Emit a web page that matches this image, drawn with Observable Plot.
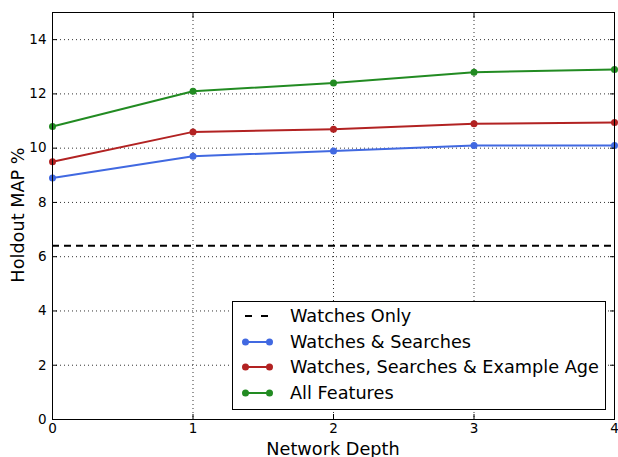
<!DOCTYPE html>
<html><head><meta charset="utf-8">
<script src="https://cdn.jsdelivr.net/npm/d3@7"></script>
<script src="https://cdn.jsdelivr.net/npm/@observablehq/plot@0.6"></script>
<style>
body{margin:0;background:#fff;font-family:"DejaVu Sans",sans-serif;}
#wrap{position:relative;width:618px;height:457px;overflow:hidden;}
#legend{position:absolute;left:232px;top:301px;width:372px;height:107px;border:1px solid #000;background:#fff;font-size:17.7px;}
.row{position:absolute;left:9px;height:26px;display:flex;align-items:center;}
.row span{margin-left:17px;color:#000;}
</style></head>
<body><div id="wrap"></div>
<script>
const depths = [0, 1, 2, 3, 4];
const seriesNames = ["Watches & Searches", "Watches, Searches & Example Age", "All Features"];
const watchesSearches = [8.9, 9.7, 9.9, 10.1, 10.1];
const watchesSearchesAge = [9.5, 10.6, 10.7, 10.9, 10.95];
const allFeatures = [10.8, 12.1, 12.4, 12.8, 12.9];
const watchesOnly = 6.4;
const colors = ["#4169E1", "#B22222", "#228B22"];
const yTicks = [0, 2, 4, 6, 8, 10, 12, 14];
const xTicks = [0, 1, 2, 3, 4];

const seriesVals = [watchesSearches, watchesSearchesAge, allFeatures];
const data = [];
seriesVals.forEach((vals, i) => vals.forEach((v, j) => data.push({series: seriesNames[i], x: depths[j], y: v})));

const plot = Plot.plot({
  width: 618, height: 457,
  marginLeft: 52, marginRight: 4, marginTop: 12, marginBottom: 38,
  style: {fontFamily: "DejaVu Sans", fontSize: "13.5px", background: "white", color: "black"},
  x: {domain: [0, 4]},
  y: {domain: [0, 15]},
  color: {domain: seriesNames, range: colors},
  marks: [
    Plot.gridX(xTicks, {stroke: "black", strokeOpacity: 0.8, strokeDasharray: "1,3"}),
    Plot.gridY(yTicks, {stroke: "black", strokeOpacity: 0.8, strokeDasharray: "1,3"}),
    Plot.ruleY([watchesOnly], {stroke: "black", strokeWidth: 2, strokeDasharray: "7,5"}),
    Plot.line(data, {x: "x", y: "y", z: "series", stroke: "series", strokeWidth: 2}),
    Plot.dot(data, {x: "x", y: "y", fill: "series", r: 3.5}),
    Plot.axisY(yTicks, {anchor: "left", tickSize: -5, tickPadding: 11, tickFormat: d3.format("d"), label: null, fontSize: 13.5}),
    Plot.axisY(yTicks, {anchor: "right", tickSize: -5, tickFormat: () => "", label: null}),
    Plot.axisX(xTicks, {anchor: "bottom", tickSize: -5, tickPadding: 9, tickFormat: d3.format("d"), label: null, fontSize: 13.5}),
    Plot.axisX(xTicks, {anchor: "top", tickSize: -5, tickFormat: () => "", label: null}),
    Plot.frame({stroke: "black"})
  ]
});
const wrap = document.getElementById("wrap");
wrap.appendChild(plot);

// axis labels
const svg = d3.select(plot);
svg.append("text").attr("x", 333).attr("y", 455).attr("text-anchor", "middle")
  .style("font-size", "17.7px").text("Network Depth");
svg.append("text").attr("transform", "translate(24,215) rotate(-90)").attr("text-anchor", "middle")
  .style("font-size", "17.7px").text("Holdout MAP %");

// legend
const legend = document.createElement("div");
legend.id = "legend";
const entries = [{name: "Watches Only", color: "black", dash: true}]
  .concat(seriesNames.map((n, i) => ({name: n, color: colors[i], dash: false})));
entries.forEach((e, i) => {
  const row = document.createElement("div");
  row.className = "row";
  row.style.top = (1 + i * 25.7) + "px";
  const sw = e.dash
    ? `<svg width="31" height="12"><line x1="3" x2="29" y1="6" y2="6" stroke="black" stroke-width="2" stroke-dasharray="7,9"/></svg>`
    : `<svg width="31" height="12"><line x1="3.5" x2="27.5" y1="6" y2="6" stroke="${e.color}" stroke-width="2"/><circle cx="3.5" cy="6" r="3.5" fill="${e.color}"/><circle cx="27.5" cy="6" r="3.5" fill="${e.color}"/></svg>`;
  row.innerHTML = sw + `<span>${e.name}</span>`;
  legend.appendChild(row);
});
wrap.appendChild(legend);
</script>
</body></html>
